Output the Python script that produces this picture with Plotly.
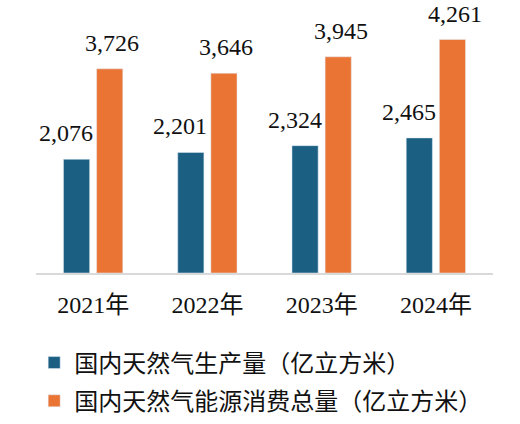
import plotly.graph_objects as go

years = ["2021年", "2022年", "2023年", "2024年"]
production = [2076, 2201, 2324, 2465]
consumption = [3726, 3646, 3945, 4261]
name_prod = "国内天然气生产量（亿立方米）"
name_cons = "国内天然气能源消费总量（亿立方米）"

blue = "#1B6083"
orange = "#EA7434"
serif = "Liberation Serif, Times New Roman, Noto Sans CJK SC, serif"

fig = go.Figure()
fig.add_trace(go.Bar(x=years, y=production, name=name_prod, marker_color=blue, legendgroup="a"))
fig.add_trace(go.Bar(x=years, y=consumption, name=name_cons, marker_color=orange, legendgroup="b"))

# value labels, offset from the category centre like the original
for i, yr in enumerate(years):
    fig.add_annotation(x=yr, y=production[i], text=f"{production[i]:,}", showarrow=False,
                       yanchor="bottom", xshift=-27, yshift=11,
                       font=dict(family=serif, size=24, color="#111111"))
    fig.add_annotation(x=yr, y=consumption[i], text=f"{consumption[i]:,}", showarrow=False,
                       yanchor="bottom", xshift=19, yshift=11,
                       font=dict(family=serif, size=24, color="#111111"))

fig.update_layout(
    width=520, height=424,
    margin=dict(l=36, r=27, t=8, b=151, autoexpand=False),
    plot_bgcolor="white", paper_bgcolor="white",
    barmode="group", bargap=0.42, bargroupgap=0.21,
    showlegend=True,
    legend=dict(orientation="v", x=-0.004, xref="paper", y=0.197, yref="container",
                xanchor="left", yanchor="top",
                font=dict(family="Noto Sans CJK SC", size=24, color="#111111"),
                tracegroupgap=4, itemclick=False),
    xaxis=dict(showline=True, linecolor="#D9D9D9", linewidth=2, ticks="outside",
               ticklen=9, tickcolor="white",
               tickfont=dict(family=serif, size=24, color="#111111")),
    yaxis=dict(range=[0, 4836], visible=False, showgrid=False),
)

# drop the default 8px body margin so the figure fills the window
fig.write_html("out.html", config={"displayModeBar": False},
               post_script="document.body.style.margin='0';")
